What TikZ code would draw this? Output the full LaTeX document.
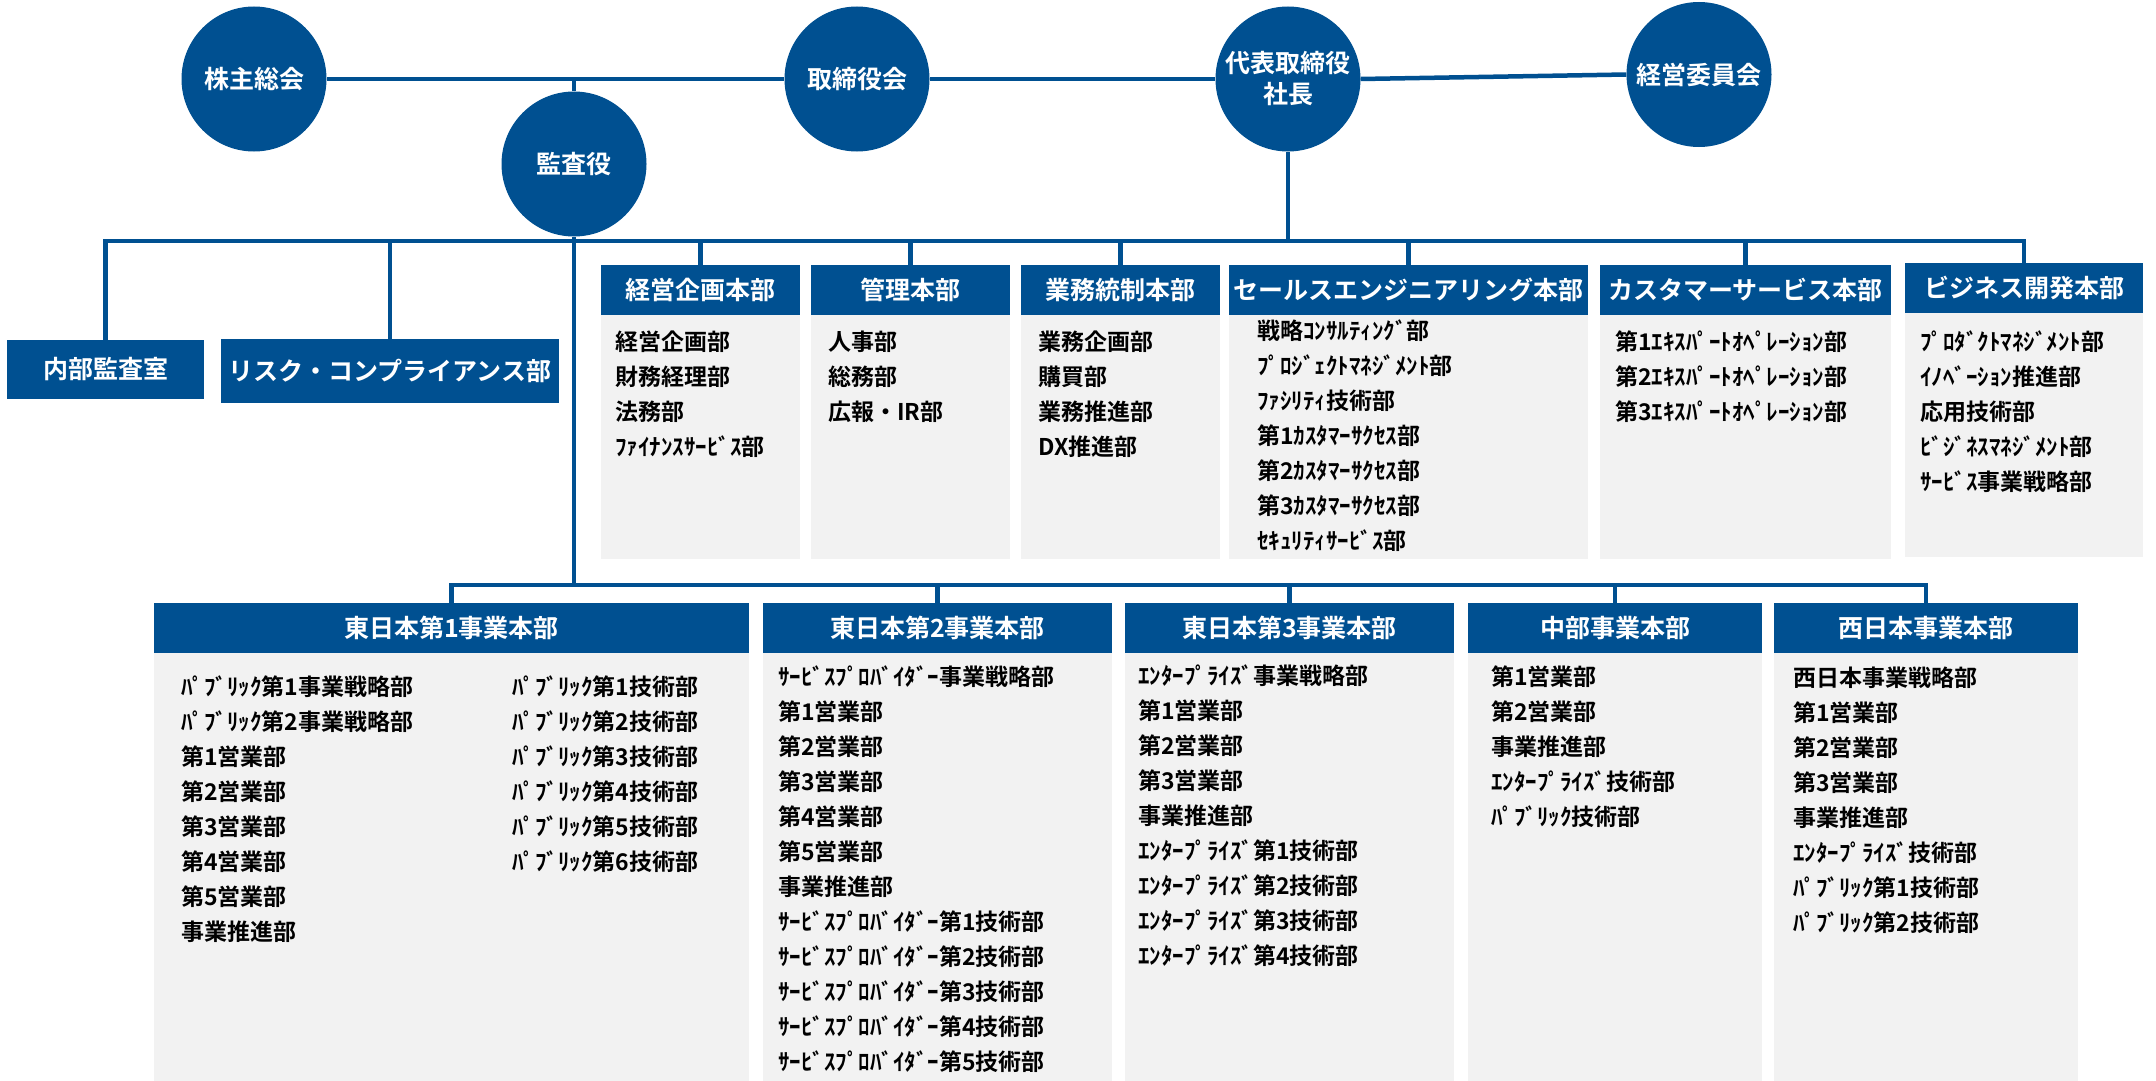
\documentclass[tikz,border=0pt]{standalone}
\usepackage{fontspec}
\setmainfont{Noto Sans CJK JP}[BoldFont={Noto Sans CJK JP Bold}]
\usepackage{xcolor}
\usepackage{tikz}
\usetikzlibrary{positioning}
\definecolor{orgblue}{RGB}{0,80,145}
\definecolor{bodygray}{RGB}{242,242,242}
\tikzset{
    every node/.style={font=\bfseries},
    circ/.style={circle,fill=orgblue,text=white,minimum size=145pt,inner sep=0pt,
        align=center,font=\fontsize{25}{31}\selectfont\bfseries},
    hdr/.style={fill=orgblue,text=white,minimum height=50pt,inner sep=0pt,
        font=\fontsize{25}{30}\selectfont\bfseries},
    listbox/.style={fill=bodygray,inner sep=0pt},
    item/.style={anchor=west,inner sep=0pt,font=\fontsize{23}{28}\selectfont\bfseries},
    conn/.style={draw=orgblue,line width=4.5pt}
}

\begin{document}
\begin{tikzpicture}[x=1pt,y=-1pt]
            \useasboundingbox (0,0) rectangle (2156,1081);

            % Top management circles
            \node[circ] (kabu) at (254,79) {株主総会};
            \node[circ] (kansa) at (574,164) {監査役};
            \node[circ] (torishimari) at (857,79) {取締役会};
            \node[circ] (daihyo) at (1288,79) {代表取締役\\社長};
            \node[circ] (keiei) at (1699,74.5) {経営委員会};

            % Audit boxes
            \node[hdr,minimum width=197pt,minimum height=59pt] (naibu) at (105.5,369.5) {内部監査室};
            \node[hdr,minimum width=338pt,minimum height=64pt] (risk) at (390,371) {リスク・コンプライアンス部};

            % Head office divisions
            \node[hdr,minimum width=199pt] (kikaku) at (700.5,290) {経営企画本部};
            \node[hdr,minimum width=199pt] (kanri) at (910.5,290) {管理本部};
            \node[hdr,minimum width=199pt] (tosei) at (1120.5,290) {業務統制本部};
            \node[hdr,minimum width=359pt] (sales) at (1408.5,290) {セールスエンジニアリング本部};
            \node[hdr,minimum width=291pt] (cs) at (1745.5,290) {カスタマーサービス本部};
            \node[hdr,minimum width=238pt] (bizdev) at (2024,288) {ビジネス開発本部};
            \foreach \n/\w in {kikaku/199,kanri/199,tosei/199,sales/359,cs/291,bizdev/238}
                \node[listbox,minimum width=\w pt,minimum height=244pt,below=0pt of \n] (\n-box) {};

            \foreach \lbl [count=\i] in {経営企画部,財務経理部,法務部,ﾌｧｲﾅﾝｽｻｰﾋﾞｽ部}
                \node[item] (kikaku-\i) at (615,307+35*\i) {\lbl};
            \foreach \lbl [count=\i] in {人事部,総務部,広報・IR部}
                \node[item] (kanri-\i) at (828,307+35*\i) {\lbl};
            \foreach \lbl [count=\i] in {業務企画部,購買部,業務推進部,DX推進部}
                \node[item] (tosei-\i) at (1038,307+35*\i) {\lbl};
            \foreach \lbl [count=\i] in {戦略ｺﾝｻﾙﾃｨﾝｸﾞ部,ﾌﾟﾛｼﾞｪｸﾄﾏﾈｼﾞﾒﾝﾄ部,ﾌｧｼﾘﾃｨ技術部,
                    第1ｶｽﾀﾏｰｻｸｾｽ部,第2ｶｽﾀﾏｰｻｸｾｽ部,第3ｶｽﾀﾏｰｻｸｾｽ部,ｾｷｭﾘﾃｨｻｰﾋﾞｽ部}
                \node[item] (sales-\i) at (1257,296+35*\i) {\lbl};
            \foreach \lbl [count=\i] in {第1ｴｷｽﾊﾟｰﾄｵﾍﾟﾚｰｼｮﾝ部,第2ｴｷｽﾊﾟｰﾄｵﾍﾟﾚｰｼｮﾝ部,第3ｴｷｽﾊﾟｰﾄｵﾍﾟﾚｰｼｮﾝ部}
                \node[item] (cs-\i) at (1615,307+35*\i) {\lbl};
            \foreach \lbl [count=\i] in {ﾌﾟﾛﾀﾞｸﾄﾏﾈｼﾞﾒﾝﾄ部,ｲﾉﾍﾞｰｼｮﾝ推進部,応用技術部,ﾋﾞｼﾞﾈｽﾏﾈｼﾞﾒﾝﾄ部,ｻｰﾋﾞｽ事業戦略部}
                \node[item] (bizdev-\i) at (1920,307+35*\i) {\lbl};

            % Business divisions
            \node[hdr,minimum width=595pt] (east1) at (451.5,628) {東日本第1事業本部};
            \node[hdr,minimum width=349pt] (east2) at (937.5,628) {東日本第2事業本部};
            \node[hdr,minimum width=329pt] (east3) at (1289.5,628) {東日本第3事業本部};
            \node[hdr,minimum width=294pt] (chubu) at (1615,628) {中部事業本部};
            \node[hdr,minimum width=304pt] (west) at (1926,628) {西日本事業本部};
            \foreach \n/\w in {east1/595,east2/349,east3/329,chubu/294,west/304}
                \node[listbox,minimum width=\w pt,minimum height=428pt,below=0pt of \n] (\n-box) {};

            \foreach \lbl [count=\i] in {ﾊﾟﾌﾞﾘｯｸ第1事業戦略部,ﾊﾟﾌﾞﾘｯｸ第2事業戦略部,第1営業部,第2営業部,
                    第3営業部,第4営業部,第5営業部,事業推進部}
                \node[item] (east1-\i) at (181,652+35*\i) {\lbl};
            \foreach \k in {1,...,6}
                \node[item] (east1-t\k) at (512,652+35*\k) {ﾊﾟﾌﾞﾘｯｸ第\k 技術部};
            \foreach \lbl [count=\i] in {ｻｰﾋﾞｽﾌﾟﾛﾊﾞｲﾀﾞｰ事業戦略部,第1営業部,第2営業部,第3営業部,第4営業部,
                    第5営業部,事業推進部,ｻｰﾋﾞｽﾌﾟﾛﾊﾞｲﾀﾞｰ第1技術部,ｻｰﾋﾞｽﾌﾟﾛﾊﾞｲﾀﾞｰ第2技術部,
                    ｻｰﾋﾞｽﾌﾟﾛﾊﾞｲﾀﾞｰ第3技術部,ｻｰﾋﾞｽﾌﾟﾛﾊﾞｲﾀﾞｰ第4技術部,ｻｰﾋﾞｽﾌﾟﾛﾊﾞｲﾀﾞｰ第5技術部}
                \node[item] (east2-\i) at (778,642+35*\i) {\lbl};
            \foreach \lbl [count=\i] in {ｴﾝﾀｰﾌﾟﾗｲｽﾞ事業戦略部,第1営業部,第2営業部,第3営業部,事業推進部,
                    ｴﾝﾀｰﾌﾟﾗｲｽﾞ第1技術部,ｴﾝﾀｰﾌﾟﾗｲｽﾞ第2技術部,ｴﾝﾀｰﾌﾟﾗｲｽﾞ第3技術部,ｴﾝﾀｰﾌﾟﾗｲｽﾞ第4技術部}
                \node[item] (east3-\i) at (1138,641+35*\i) {\lbl};
            \foreach \lbl [count=\i] in {第1営業部,第2営業部,事業推進部,ｴﾝﾀｰﾌﾟﾗｲｽﾞ技術部,ﾊﾟﾌﾞﾘｯｸ技術部}
                \node[item] (chubu-\i) at (1491,642+35*\i) {\lbl};
            \foreach \lbl [count=\i] in {西日本事業戦略部,第1営業部,第2営業部,第3営業部,事業推進部,
                    ｴﾝﾀｰﾌﾟﾗｲｽﾞ技術部,ﾊﾟﾌﾞﾘｯｸ第1技術部,ﾊﾟﾌﾞﾘｯｸ第2技術部}
                \node[item] (west-\i) at (1793,643+35*\i) {\lbl};

            % Connectors between circles
            \draw[conn] (kabu.east) -- (torishimari.west);
            \draw[conn] (torishimari.east) -- (daihyo.west);
            \draw[conn] (daihyo.east) -- (keiei.west);
            \draw[conn] (kansa.north) -- (kansa.north |- kabu.east);

            % Upper bus line
            \coordinate (bus1) at (0,241);
            \coordinate (bus2) at (0,585);
            \draw[conn] (naibu.north) |- (bizdev.north |- bus1) -- (bizdev.north);
            \foreach \n in {risk,kikaku,kanri,tosei,sales,cs}
                \draw[conn] (\n.north) -- (\n.north |- bus1);
            \draw[conn] (daihyo.south) -- (daihyo.south |- bus1);

            % Lower bus line
            \draw[conn] (kansa.south) -- (kansa.south |- bus2);
            \draw[conn] (east1.north) |- (west.north |- bus2) -- (west.north);
            \foreach \n in {east2,east3,chubu}
                \draw[conn] (\n.north) -- (\n.north |- bus2);
        \end{tikzpicture}
\end{document}
